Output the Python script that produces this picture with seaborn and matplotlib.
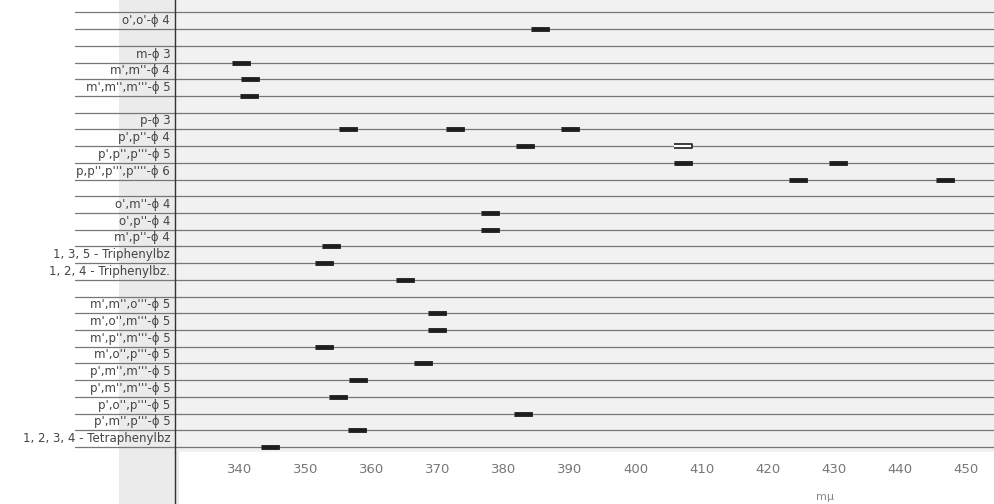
import numpy as np
import pandas as pd
import seaborn as sns
import matplotlib.pyplot as plt
import matplotlib.transforms as mtransforms
from matplotlib.patches import Rectangle

sns.set_style("white")
plt.rcParams['font.family'] = ['DejaVu Sans']

# data --------------------------------------------------------------------------
compounds = [
    "o',o'-ϕ 4", "",
    "m-ϕ 3", "m',m''-ϕ 4", "m',m'',m'''-ϕ 5", "",
    "p-ϕ 3", "p',p''-ϕ 4", "p',p'',p'''-ϕ 5", "p,p'',p''',p''''-ϕ 6", "",
    "o',m''-ϕ 4", "o',p''-ϕ 4", "m',p''-ϕ 4",
    "1, 3, 5 - Triphenylbz", "1, 2, 4 - Triphenylbz.", "",
    "m',m'',o'''-ϕ 5", "m',o'',m'''-ϕ 5", "m',p'',m'''-ϕ 5", "m',o'',p'''-ϕ 5",
    "p',m'',m'''-ϕ 5", "p',m'',m'''-ϕ 5", "p',o'',p'''-ϕ 5", "p',m'',p'''-ϕ 5",
    "1, 2, 3, 4 - Tetraphenylbz",
]
# absorption bands (mμ) per row
bands = [
    [385.5], [],
    [340.2], [341.5], [341.4], [],
    [356.4, 372.6, 390.0], [383.2], [407.1, 430.6], [424.5, 446.8], [],
    [377.9], [377.9], [353.8],
    [352.7], [365.0], [],
    [369.8], [369.8], [352.7], [367.7],
    [357.9], [354.8], [382.9], [357.7],
    [344.5],
]
# open (unfilled) band
hollow_row = 7
hollow_band = [407.1]
ticks = [340, 350, 360, 370, 380, 390, 400, 410, 420, 430, 440, 450]

rows = []
for i, b in enumerate(bands):
    for w in b:
        rows.append((i, w))
df = pd.DataFrame(rows, columns=['row', 'wavelength'])
df_open = pd.DataFrame({'row': [hollow_row] * len(hollow_band), 'wavelength': hollow_band})

# plot --------------------------------------------------------------------------
fig = plt.figure(figsize=(9.95, 5.04), dpi=100, facecolor='white')
fig.patches.append(Rectangle((0.12, 0.0), 0.06, 1.0, transform=fig.transFigure,
                             facecolor='#ebebeb', edgecolor='none', zorder=-1))
ax = fig.add_axes([0.176, 0.103, 0.824, 0.897])
ax.set_facecolor('#f1f1f1')

n = len(compounds)
ax.set_xlim(330.2, 454.4)
ax.set_ylim(25.3, -1.74)

# row lines across label area and plot
trans = mtransforms.blended_transform_factory(fig.transFigure, ax.transData)
for i in range(-1, n):
    ax.plot([0.075, 1.0], [i, i], transform=trans, color='#777777', lw=0.9,
            clip_on=False, zorder=1)

bar = [(-1, -0.28), (1, -0.28), (1, 0.28), (-1, 0.28)]
sns.scatterplot(data=df, x='wavelength', y='row', marker=bar, s=160,
                color='#1e1e1e', edgecolor='#1e1e1e', linewidth=0.6, ax=ax,
                zorder=3, legend=False)
sns.scatterplot(data=df_open, x='wavelength', y='row', marker=bar, s=160,
                facecolor='white', edgecolor='#1e1e1e', linewidth=1.2, ax=ax,
                zorder=3, legend=False)

ltrans = mtransforms.blended_transform_factory(ax.transAxes, ax.transData)
for i, name in enumerate(compounds):
    if name:
        ax.text(-0.006, i - 0.12, name, transform=ltrans,
                ha='right', va='bottom', fontsize=8.5, color='#444444')

ax.set_xticks(ticks)
ax.set_xticklabels([str(t) for t in ticks], fontsize=9.5, color='#777777')
ax.tick_params(axis='x', direction='out', length=4, width=0.8, color='#888888', pad=4)
ax.set_yticks([])
ax.set_xlabel('')
ax.set_ylabel('')
for s in ['top', 'right', 'bottom']:
    ax.spines[s].set_visible(False)
ax.spines['left'].set_color('#333333')
ax.spines['left'].set_linewidth(1.0)
# vertical rule extends through the tick label area
ax.plot([0.176, 0.176], [0.0, 0.103], transform=fig.transFigure, color='#333333',
        lw=1.0, clip_on=False)
fig.text(0.829, 0.008, 'mμ', fontsize=8, color='#888888', ha='center')

fig.savefig('out.png', dpi=100)
